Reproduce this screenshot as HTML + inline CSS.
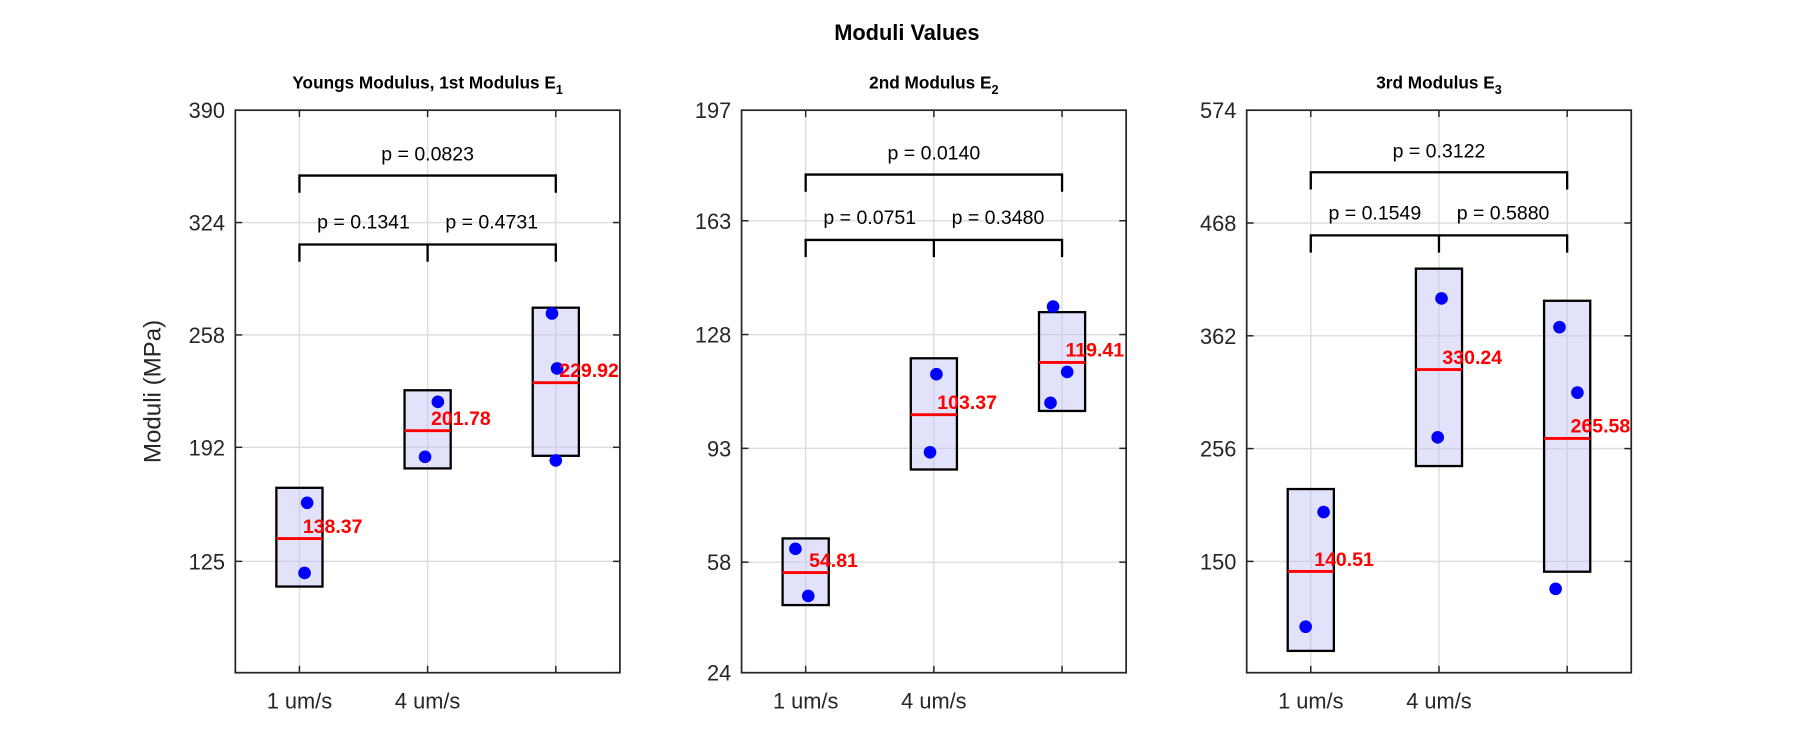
<!DOCTYPE html>
<html><head><meta charset="utf-8"><style>
body{margin:0;background:#fff;}
svg{display:block;font-family:"Liberation Sans",Arial,sans-serif;}
</style></head><body>
<svg width="1800" height="750">
<g id="chart" transform="scale(1.14796)">
<text x="790" y="35" text-anchor="middle" font-size="19" font-weight="bold">Moduli Values</text>
<text transform="translate(140,341) rotate(-90)" text-anchor="middle" font-size="21" fill="#262626">Moduli (MPa)</text>
</g>
</svg>
<script>
const categories = ["1 um/s","4 um/s",""];
const panelTitles = ["Youngs Modulus, 1st Modulus E","2nd Modulus E","3rd Modulus E"];
const titleSubs = ["1","2","3"];
const yLimits = [[59.6,390],[24,197],[45.4,574]];
const yTickLabels = [["","125","192","258","324","390"],["24","58","93","128","163","197"],["","150","256","362","468","574"]];
const yTickValues = [[59.6,125,192,258,324,390],[24,58,93,128,163,197],[45.4,150,256,362,468,574]];
const means = [[138.37,201.78,229.92],[54.81,103.37,119.41],[140.51,330.24,265.58]];
const boxLow = [[110.2,179.6,187.0],[44.8,86.5,104.5],[65.9,239.6,140.3]];
const boxHigh = [[168.2,225.5,274.0],[65.3,120.7,134.9],[218.0,425.1,394.9]];
const points = [
 [[159.4,118.2],[218.7,186.4],[270.6,238.3,184.3]],
 [[62.1,47.6],[115.8,91.8],[136.6,116.5,107.0]],
 [[196.4,88.6],[397.1,266.6],[370.1,308.6,124.2]]
];
const jitter = [
 [[0.06,0.04],[0.08,-0.02],[-0.03,0.01,0.0]],
 [[-0.08,0.02],[0.02,-0.03],[-0.07,0.04,-0.09]],
 [[0.10,-0.04],[0.02,-0.01],[-0.06,0.08,-0.09]]
];
const pTop = ["p = 0.0823","p = 0.0140","p = 0.3122"];
const pLeft = ["p = 0.1341","p = 0.0751","p = 0.1549"];
const pRight = ["p = 0.4731","p = 0.3480","p = 0.5880"];
const bracketTop = [351.6,177.2,515.7];
const bracketLow = [311.1,157.1,456.4];

const NS="http://www.w3.org/2000/svg";
const svg=document.getElementById('chart');
const axX=[205,646,1086], axW=335, axT=96, axB=586;
function mk(tag,attrs,parent){const e=document.createElementNS(NS,tag);for(const k in attrs)e.setAttribute(k,attrs[k]);(parent||svg).appendChild(e);return e;}
for(let p=0;p<3;p++){
  const g=mk('g',{});
  
  
  const x0=axX[p];
  const xs=c=>x0+(c+0.5)*axW/3;
  const [lo,hi]=yLimits[p];
  const ys=v=>axB-(v-lo)/(hi-lo)*(axB-axT);
  yTickValues[p].forEach((v,i)=>{
    const y=ys(v);
    const gl=mk('line',{x1:x0,x2:x0+axW,y1:y,y2:y,stroke:'#dcdcdc','stroke-width':1.2},g);
    
    
    mk('line',{x1:x0,x2:x0+6,y1:y,y2:y,stroke:'#262626','stroke-width':1.3},g);
    mk('line',{x1:x0+axW,x2:x0+axW-6,y1:y,y2:y,stroke:'#262626','stroke-width':1.3},g);
    const t=mk('text',{x:x0-9,y:y+7,'text-anchor':'end','font-size':19,fill:'#262626'},g);
    t.textContent=yTickLabels[p][i];
    
    
  });
  categories.forEach((c,i)=>{
    const x=xs(i);
    const gl=mk('line',{x1:x,x2:x,y1:axT,y2:axB,stroke:'#dcdcdc','stroke-width':1.2},g);
    
    
    mk('line',{x1:x,x2:x,y1:axB,y2:axB-6,stroke:'#262626','stroke-width':1.3},g);
    mk('line',{x1:x,x2:x,y1:axT,y2:axT+6,stroke:'#262626','stroke-width':1.3},g);
    const t=mk('text',{x:x,y:617,'text-anchor':'middle','font-size':19,fill:'#262626'},g);
    t.textContent=c;
    
    
  });
  const bw=0.36*axW/3;
  for(let c=0;c<3;c++){
    const x=xs(c);
    const r=mk('rect',{x:x-bw/2,y:ys(boxHigh[p][c]),width:bw,height:ys(boxLow[p][c])-ys(boxHigh[p][c]),fill:'rgba(190,190,245,0.45)',stroke:'#000','stroke-width':2},g);
    
    
    points[p][c].forEach((v,k)=>{
      const d=mk('circle',{cx:x+jitter[p][c][k]*axW/3,cy:ys(v),r:5.5,fill:'#0000ff'},g);
      
      
    });
    const my=ys(means[p][c]);
    const ml=mk('line',{x1:x-bw/2,x2:x+bw/2,y1:my,y2:my,stroke:'#ff0000','stroke-width':2.5},g);
    
    
    const mt=mk('text',{x:x+3,y:my-5,'font-size':17,'font-weight':'bold',fill:'#ff0000'},g);
    mt.textContent=means[p][c].toFixed(2);
    
    
  }
  const bt=ys(bracketTop[p]), bl=ys(bracketLow[p]);
  const pb=mk('path',{d:`M${xs(0)},${bt+15}V${bt}H${xs(2)}V${bt+15}`,fill:'none',stroke:'#000','stroke-width':2},g);
  
  
  const pb2=mk('path',{d:`M${xs(0)},${bl+15}V${bl}H${xs(2)}V${bl+15}M${xs(1)},${bl}V${bl+15}`,fill:'none',stroke:'#000','stroke-width':2},g);
  
  
  const t1=mk('text',{x:xs(1),y:bt-13,'text-anchor':'middle','font-size':17},g);
  t1.textContent=pTop[p];
  
  
  const t2=mk('text',{x:(xs(0)+xs(1))/2,y:bl-14,'text-anchor':'middle','font-size':17},g);
  t2.textContent=pLeft[p];
  
  
  const t3=mk('text',{x:(xs(1)+xs(2))/2,y:bl-14,'text-anchor':'middle','font-size':17},g);
  t3.textContent=pRight[p];
  
  
  const fr=mk('rect',{x:x0,y:axT,width:axW,height:axB-axT,fill:'none',stroke:'#262626','stroke-width':1.5},g);
  
  
  const tt=mk('text',{x:x0+axW/2,y:77,'text-anchor':'middle','font-size':15,'font-weight':'bold'},g);
  tt.textContent=panelTitles[p];
  const sub=mk('tspan',{dy:5,'font-size':11},tt);
  sub.textContent=titleSubs[p];
  
  
}
</script>
</body></html>
